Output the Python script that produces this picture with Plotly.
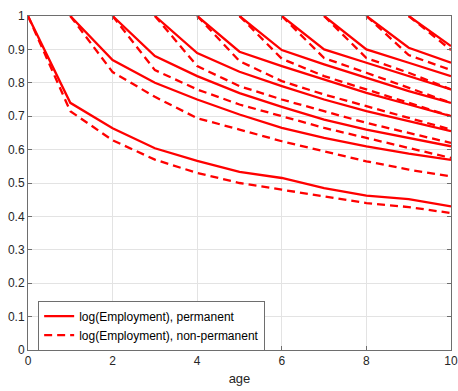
import plotly.graph_objects as go

# Entry ages of each cohort
start_ages = [0, 1, 2, 3, 4, 5, 6, 7, 8, 9]
age_max = 10

# Permanent (solid) cohorts: values from entry age to age 10
perm_0 = [1, 0.74, 0.664, 0.604, 0.566, 0.533, 0.515, 0.485, 0.462, 0.452, 0.43]
perm_1 = [1, 0.868, 0.80, 0.75, 0.705, 0.665, 0.635, 0.61, 0.588, 0.569]
perm_2 = [1, 0.88, 0.82, 0.769, 0.728, 0.69, 0.66, 0.635, 0.61]
perm_3 = [1, 0.889, 0.833, 0.79, 0.75, 0.715, 0.685, 0.655]
perm_4 = [1, 0.893, 0.85, 0.81, 0.77, 0.735, 0.70]
perm_5 = [1, 0.898, 0.855, 0.815, 0.775, 0.74]
perm_6 = [1, 0.90, 0.86, 0.82, 0.78]
perm_7 = [1, 0.90, 0.86, 0.82]
perm_8 = [1, 0.905, 0.86]
perm_9 = [1, 0.91]

# Non-permanent (dashed) cohorts
nonperm_0 = [1, 0.715, 0.628, 0.57, 0.53, 0.50, 0.48, 0.46, 0.44, 0.428, 0.41]
nonperm_1 = [1, 0.832, 0.758, 0.694, 0.66, 0.625, 0.595, 0.565, 0.54, 0.52]
nonperm_2 = [1, 0.838, 0.78, 0.735, 0.70, 0.665, 0.635, 0.605, 0.575]
nonperm_3 = [1, 0.85, 0.79, 0.75, 0.715, 0.68, 0.65, 0.62]
nonperm_4 = [1, 0.865, 0.805, 0.765, 0.73, 0.695, 0.66]
nonperm_5 = [1, 0.872, 0.82, 0.78, 0.74, 0.70]
nonperm_6 = [1, 0.874, 0.83, 0.785, 0.74]
nonperm_7 = [1, 0.874, 0.83, 0.78]
nonperm_8 = [1, 0.883, 0.838]
nonperm_9 = [1, 0.898]

perm_series = [perm_0, perm_1, perm_2, perm_3, perm_4, perm_5, perm_6, perm_7, perm_8, perm_9]
nonperm_series = [nonperm_0, nonperm_1, nonperm_2, nonperm_3, nonperm_4, nonperm_5,
                  nonperm_6, nonperm_7, nonperm_8, nonperm_9]

legend_perm = "log(Employment), permanent"
legend_nonperm = "log(Employment), non-permanent"

x_ticks = [0, 2, 4, 6, 8, 10]
y_ticks = [0, 0.1, 0.2, 0.3, 0.4, 0.5, 0.6, 0.7, 0.8, 0.9, 1]
y_tick_text = ["0", "0.1", "0.2", "0.3", "0.4", "0.5", "0.6", "0.7", "0.8", "0.9", "1"]

RED = "#ff0000"
fig = go.Figure()

for i, (a0, ys) in enumerate(zip(start_ages, perm_series)):
    fig.add_trace(go.Scatter(
        x=list(range(a0, age_max + 1)), y=ys, mode="lines",
        line=dict(color=RED, width=2.3),
        name=legend_perm, legendgroup="p", showlegend=(i == 0)))

for i, (a0, ys) in enumerate(zip(start_ages, nonperm_series)):
    fig.add_trace(go.Scatter(
        x=list(range(a0, age_max + 1)), y=ys, mode="lines",
        line=dict(color=RED, width=2.3, dash="8px,5px"),
        name=legend_nonperm, legendgroup="np", showlegend=(i == 0)))

axis_common = dict(
    showgrid=True, gridcolor="#e3e3e3", gridwidth=1,
    showline=True, linecolor="#6e6e6e", linewidth=1, mirror="ticks",
    ticks="inside", ticklen=4, tickcolor="#6e6e6e",
    zeroline=False, tickfont=dict(size=12, color="#262626"),
    automargin=False,
)

fig.update_layout(
    width=458, height=391,
    margin=dict(l=28, r=7, t=16, b=41),
    plot_bgcolor="white", paper_bgcolor="white",
    font=dict(family="Liberation Sans, Arial, sans-serif", size=12, color="#262626"),
    xaxis=dict(range=[0, 10], tickvals=x_ticks,
               title=dict(text="age", standoff=6, font=dict(size=13)), **axis_common),
    yaxis=dict(range=[0, 1], tickvals=y_ticks, ticktext=y_tick_text, **axis_common),
    legend=dict(x=0.024, y=0.148, xanchor="left", yanchor="top",
                bgcolor="white", bordercolor="#6e6e6e", borderwidth=1,
                font=dict(size=12, color="#000000"), tracegroupgap=0),
    showlegend=True,
)

fig.write_html("out.html")
